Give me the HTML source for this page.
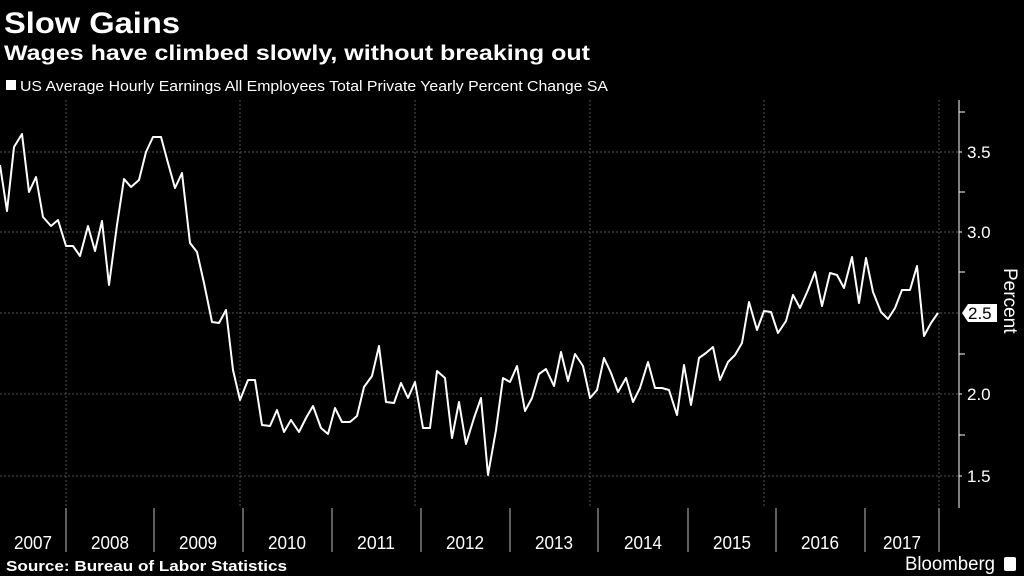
<!DOCTYPE html>
<html><head><meta charset="utf-8"><style>
body{margin:0;background:#000;width:1024px;height:576px;overflow:hidden;font-family:"Liberation Sans",sans-serif;color:#fff}
</style></head><body>
<svg width="1024" height="576" xmlns="http://www.w3.org/2000/svg" style="position:absolute;left:0;top:0">
<text x="4" y="33" font-size="30" font-weight="bold" fill="#fff" textLength="176" lengthAdjust="spacingAndGlyphs">Slow Gains</text>
<text x="4" y="60" font-size="21" font-weight="bold" fill="#fff" textLength="586" lengthAdjust="spacingAndGlyphs">Wages have climbed slowly, without breaking out</text>
<rect x="6" y="80" width="10" height="10" fill="#fff"/>
<text x="20" y="91" font-size="15" fill="#fff" textLength="588" lengthAdjust="spacingAndGlyphs">US Average Hourly Earnings All Employees Total Private Yearly Percent Change SA</text>
<g stroke="#555" stroke-width="1" stroke-dasharray="2,2">
<line x1="0" y1="152" x2="959" y2="152"/><line x1="0" y1="232" x2="959" y2="232"/><line x1="0" y1="313" x2="959" y2="313"/><line x1="0" y1="394" x2="959" y2="394"/><line x1="0" y1="476" x2="959" y2="476"/>
<line x1="66" y1="100" x2="66" y2="508"/><line x1="240" y1="100" x2="240" y2="508"/><line x1="415" y1="100" x2="415" y2="508"/><line x1="590" y1="100" x2="590" y2="508"/><line x1="764" y1="100" x2="764" y2="508"/><line x1="939" y1="100" x2="939" y2="508"/>
</g>
<line x1="959" y1="100" x2="959" y2="508" stroke="#fff"/>
<g stroke="#fff"><line x1="959" y1="112" x2="965" y2="112"/><line x1="959" y1="192" x2="965" y2="192"/><line x1="959" y1="272" x2="965" y2="272"/><line x1="959" y1="354" x2="965" y2="354"/><line x1="959" y1="435" x2="965" y2="435"/>
<line x1="959" y1="152" x2="962" y2="152"/><line x1="959" y1="232" x2="962" y2="232"/><line x1="959" y1="394" x2="962" y2="394"/><line x1="959" y1="476" x2="962" y2="476"/></g>
<g font-size="17" fill="#fff"><text x="967" y="158">3.5</text><text x="967" y="238">3.0</text><text x="967" y="400">2.0</text><text x="967" y="482">1.5</text></g>
<polygon points="962,313 968,304 997,304 997,322 968,322" fill="#fff"/>
<text x="968" y="319" font-size="17" fill="#000">2.5</text>
<text x="0" y="0" font-size="19" fill="#fff" transform="translate(1004,268) rotate(90)">Percent</text>
<polyline fill="none" stroke="#fff" stroke-width="2" stroke-linejoin="round" points="0,165 7,211 14,147 22,134 29,192 36,177 43,217 51,226 58,220 66,246 73,246 80,256 88,226 95,251 102,221 109,285 117,225 124,179 131,187 139,180 146,152 153,137 161,137 168,163 175,188 182,173 190,243 197,252 204,283 212,322 219,323 226,310 233,370 240,400 248,380 255,380 262,425 270,426 277,410 284,432 291,420 299,432 306,418 313,406 321,428 328,434 335,408 342,422 350,422 357,416 364,387 372,376 379,346 386,402 394,403 401,383 408,398 415,382 423,428 430,428 437,371 445,378 452,438 459,402 466,444 474,418 481,398 488,475 496,430 503,378 510,382 517,366 525,411 532,398 539,374 546,369 554,386 561,352 568,381 575,354 583,366 590,398 597,390 604,358 611,373 618,392 626,378 633,402 640,388 648,362 655,388 662,388 669,390 677,415 684,365 691,405 699,358 706,353 713,347 720,380 728,362 735,355 742,343 749,302 757,330 764,311 771,312 778,333 786,321 793,295 800,308 808,290 815,272 822,306 830,273 837,275 844,288 852,257 859,303 866,258 873,292 881,312 888,319 895,308 902,290 910,290 917,266 924,336 931,323 938,313"/>
<g stroke="#bbb"><line x1="66" y1="508" x2="66" y2="552"/><line x1="154" y1="508" x2="154" y2="552"/><line x1="243" y1="508" x2="243" y2="552"/><line x1="332" y1="508" x2="332" y2="552"/><line x1="421" y1="508" x2="421" y2="552"/><line x1="510" y1="508" x2="510" y2="552"/><line x1="598" y1="508" x2="598" y2="552"/><line x1="688" y1="508" x2="688" y2="552"/><line x1="776" y1="508" x2="776" y2="552"/><line x1="865" y1="508" x2="865" y2="552"/><line x1="939" y1="508" x2="939" y2="552"/></g>
<g font-size="18" fill="#fff" text-anchor="middle"><text x="33" y="549" textLength="38" lengthAdjust="spacingAndGlyphs">2007</text><text x="110" y="549" textLength="38" lengthAdjust="spacingAndGlyphs">2008</text><text x="198" y="549" textLength="38" lengthAdjust="spacingAndGlyphs">2009</text><text x="287" y="549" textLength="38" lengthAdjust="spacingAndGlyphs">2010</text><text x="376" y="549" textLength="38" lengthAdjust="spacingAndGlyphs">2011</text><text x="465" y="549" textLength="38" lengthAdjust="spacingAndGlyphs">2012</text><text x="554" y="549" textLength="38" lengthAdjust="spacingAndGlyphs">2013</text><text x="643" y="549" textLength="38" lengthAdjust="spacingAndGlyphs">2014</text><text x="732" y="549" textLength="38" lengthAdjust="spacingAndGlyphs">2015</text><text x="820" y="549" textLength="38" lengthAdjust="spacingAndGlyphs">2016</text><text x="902" y="549" textLength="38" lengthAdjust="spacingAndGlyphs">2017</text></g>
<text x="6" y="571" font-size="15" font-weight="bold" fill="#fff" textLength="281" lengthAdjust="spacingAndGlyphs">Source: Bureau of Labor Statistics</text>
<text x="905" y="570" font-size="19" fill="#fff" textLength="90" lengthAdjust="spacingAndGlyphs">Bloomberg</text>
<rect x="1004" y="557" width="12" height="14" rx="2" fill="#fff"/>
</svg>
</body></html>
